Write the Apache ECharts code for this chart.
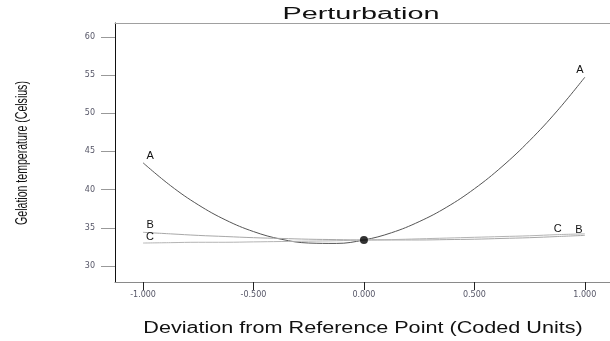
<!DOCTYPE html>
<html>
<head>
<meta charset="utf-8">
<script src="https://cdn.jsdelivr.net/npm/echarts@6/dist/echarts.min.js"></script>
<style>
  html, body { margin: 0; padding: 0; background: #fff; }
  #chart { width: 610px; height: 341px; }
</style>
</head>
<body>
<div id="chart"></div>
<script>
// Coded deviation of each factor from the reference point
const deviation = [-1, -0.875, -0.75, -0.625, -0.5, -0.375, -0.25, -0.125, 0,
                   0.125, 0.25, 0.375, 0.5, 0.625, 0.75, 0.875, 1];

// Predicted gelation temperature (°C) as each factor is varied
const factorA = [43.5, 40.5, 38.0, 36.0, 34.5, 33.5, 33.0, 32.95, 33.4,
                 34.35, 35.8, 37.7, 40.1, 43.0, 46.4, 50.3, 54.7];
const factorB = [34.4, 34.2, 34.0, 33.85, 33.7, 33.6, 33.5, 33.45, 33.4,
                 33.4, 33.4, 33.45, 33.5, 33.6, 33.7, 33.85, 34.0];
const factorC = [33.0, 33.05, 33.1, 33.1, 33.15, 33.2, 33.25, 33.3, 33.4,
                 33.45, 33.55, 33.65, 33.75, 33.85, 33.95, 34.1, 34.2];

const referencePoint = [0, 33.4];

const xTicks = [-1, -0.5, 0, 0.5, 1];
const yTicks = [30, 35, 40, 45, 50, 55, 60];

const X_MIN = -1.127, X_MAX = 1.114;

const pairs = (ys) => deviation.map((x, i) => [x, ys[i]]);

function endLabels(name, ys, leftOffset, rightOffset) {
  const base = { symbol: 'circle', symbolSize: 0 };
  const lab = (off) => ({
    show: true, formatter: name, offset: off,
    color: '#111', fontFamily: 'Liberation Sans', fontSize: 11
  });
  return {
    silent: true,
    data: [
      Object.assign({ coord: [deviation[0], ys[0]], label: lab(leftOffset) }, base),
      Object.assign({ coord: [deviation[deviation.length - 1], ys[ys.length - 1]], label: lab(rightOffset) }, base)
    ]
  };
}

function lineSeries(name, ys, color, leftOffset, rightOffset) {
  return {
    name, type: 'line', data: pairs(ys), smooth: 0.4, showSymbol: false,
    lineStyle: { color, width: 1 }, z: 3,
    markPoint: endLabels(name, ys, leftOffset, rightOffset)
  };
}

const chart = echarts.init(document.getElementById('chart'), null, { renderer: 'canvas' });

chart.setOption({
  animation: false,
  backgroundColor: '#fff',
  grid: { left: 115, right: 0, top: 23, bottom: 59 },
  xAxis: [
    {
      type: 'value', min: X_MIN, max: X_MAX,
      splitLine: { show: false },
      axisLine: { onZero: false, lineStyle: { color: '#8a8a8a', width: 1 } },
      axisTick: { show: true, length: 8, customValues: xTicks, lineStyle: { color: '#222' } },
      axisLabel: {
        customValues: xTicks, margin: 9, color: '#556',
        fontFamily: 'DejaVu Sans', fontSize: 8,
        formatter: (v) => v.toFixed(3)
      }
    },
    {
      // top frame line of the plot area
      type: 'value', position: 'top', min: X_MIN, max: X_MAX,
      splitLine: { show: false },
      axisLine: { show: true, onZero: false, lineStyle: { color: '#a0a0a0', width: 1 } },
      axisTick: { show: false },
      axisLabel: { show: false }
    }
  ],
  yAxis: {
    type: 'value', min: 27.9, max: 61.8,
    splitLine: { show: false },
    axisLine: { show: true, onZero: false, lineStyle: { color: '#111', width: 1 } },
    axisTick: { show: true, length: 14, customValues: yTicks, lineStyle: { color: '#999' } },
    axisLabel: {
      customValues: yTicks, margin: 20, color: '#556',
      fontFamily: 'DejaVu Sans', fontSize: 8
    }
  },
  series: [
    lineSeries('A', factorA, '#555', [7, -7], [-5, -7]),
    lineSeries('B', factorB, '#a8a8a8', [7, -7], [-6, -5]),
    lineSeries('C', factorC, '#b4b4b4', [7, -6], [-27, -5]),
    {
      name: 'Reference', type: 'scatter', data: [referencePoint],
      symbol: 'circle', symbolSize: 8, itemStyle: { color: '#000' }, z: 5
    }
  ],
  graphic: [
    {
      type: 'text', x: 361, y: 15, scaleX: 1.8,
      style: {
        text: 'Perturbation', font: '16px "Liberation Sans"', fill: '#111',
        textAlign: 'center', textVerticalAlign: 'middle'
      }
    },
    {
      type: 'text', x: 363, y: 329, scaleX: 1.35,
      style: {
        text: 'Deviation from Reference Point (Coded Units)', font: '16px "Liberation Sans"', fill: '#111',
        textAlign: 'center', textVerticalAlign: 'middle'
      }
    },
    {
      type: 'text', x: 23, y: 153, rotation: Math.PI / 2, scaleX: 0.66,
      style: {
        text: 'Gelation temperature (Celsius)', font: '16px "Liberation Sans"', fill: '#111',
        textAlign: 'center', textVerticalAlign: 'middle'
      }
    }
  ]
});
</script>
</body>
</html>
